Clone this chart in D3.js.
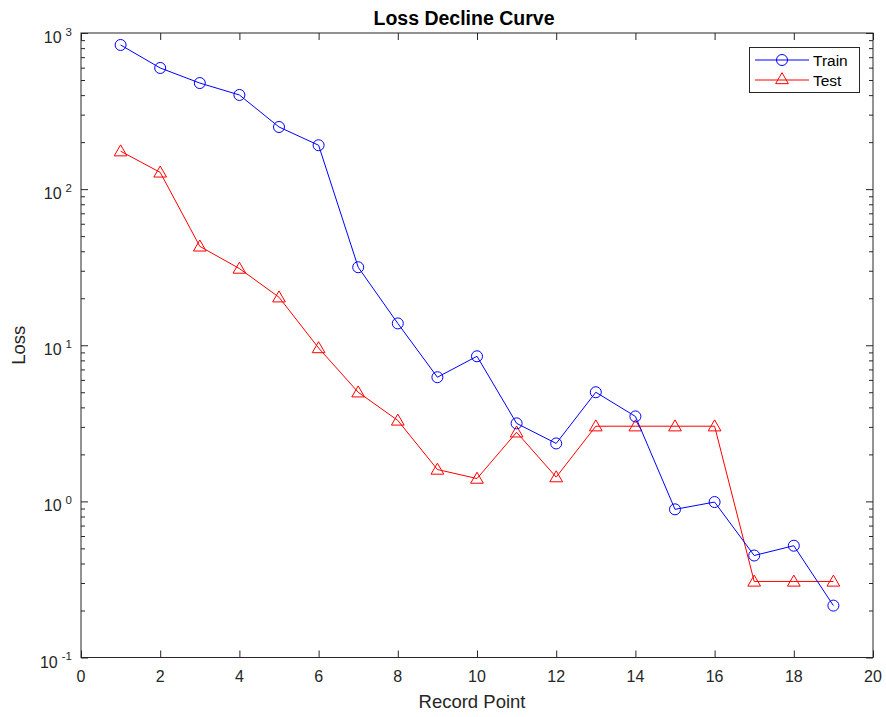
<!DOCTYPE html>
<html>
<head>
<meta charset="utf-8">
<script src="https://cdn.jsdelivr.net/npm/d3@7"></script>
<style>
  html, body { margin: 0; padding: 0; background: #fff; }
  svg { display: block; font-family: "Liberation Sans", Arial, sans-serif; }
</style>
</head>
<body>
<svg id="chart" width="886" height="717"></svg>
<script>
// Record points and loss values for the training and test runs
const recordPoints = [1, 2, 3, 4, 5, 6, 7, 8, 9, 10, 11, 12, 13, 14, 15, 16, 17, 18, 19];
const trainLoss = [838, 597, 478, 401, 250, 191, 31.6, 13.8, 6.24, 8.5, 3.16, 2.35, 5.0, 3.5, 0.889, 0.99, 0.45, 0.52, 0.215];
const testLoss = [175, 128, 43, 31, 20.3, 9.6, 5.0, 3.3, 1.6, 1.4, 2.77, 1.43, 3.03, 3.03, 3.03, 3.03, 0.307, 0.307, 0.307];
const xTicks = [0, 2, 4, 6, 8, 10, 12, 14, 16, 18, 20];
const yExponents = [-1, 0, 1, 2, 3];
const seriesNames = ["Train", "Test"];

const svg = d3.select("#chart");
const pL = 81, pR = 873, pT = 33, pB = 657.5;
const axisColor = "#262626";

const x = d3.scaleLinear().domain([0, 20]).range([pL, pR]);
const y = d3.scaleLog().domain([0.1, 1000]).range([pB, pT]);

// Minor log ticks (2..9 in each decade)
const minor = [];
yExponents.slice(0, -1).forEach(e => {
  for (let m = 2; m <= 9; m++) minor.push(m * Math.pow(10, e));
});

const g = svg.append("g");

// Tick marks: bottom/top
const tickLen = 7;
g.append("g").attr("transform", `translate(0,${pB})`)
  .call(d3.axisBottom(x).tickValues(xTicks).tickSizeInner(-tickLen).tickSizeOuter(0).tickFormat(""))
  .call(s => s.select(".domain").remove())
  .call(s => s.selectAll("line").attr("stroke", axisColor));
g.append("g").attr("transform", `translate(0,${pT})`)
  .call(d3.axisTop(x).tickValues(xTicks).tickSizeInner(-tickLen).tickSizeOuter(0).tickFormat(""))
  .call(s => s.select(".domain").remove())
  .call(s => s.selectAll("line").attr("stroke", axisColor));

// Tick marks: left/right major + minor
const majorVals = yExponents.map(e => Math.pow(10, e));
[[d3.axisLeft, pL], [d3.axisRight, pR]].forEach(([ax, px]) => {
  g.append("g").attr("transform", `translate(${px},0)`)
    .call(ax(y).tickValues(majorVals).tickSizeInner(-tickLen).tickSizeOuter(0).tickFormat(""))
    .call(s => s.select(".domain").remove())
    .call(s => s.selectAll("line").attr("stroke", axisColor));
  g.append("g").attr("transform", `translate(${px},0)`)
    .call(ax(y).tickValues(minor).tickSizeInner(-4).tickSizeOuter(0).tickFormat(""))
    .call(s => s.select(".domain").remove())
    .call(s => s.selectAll("line").attr("stroke", axisColor));
});

// Box
g.append("rect")
  .attr("x", pL).attr("y", pT)
  .attr("width", pR - pL).attr("height", pB - pT)
  .attr("fill", "none").attr("stroke", axisColor).attr("stroke-width", 1);

// X tick labels
g.selectAll(".xlab").data(xTicks).enter().append("text")
  .attr("x", d => x(d)).attr("y", pB + 24)
  .attr("text-anchor", "middle").attr("font-size", 16).attr("fill", axisColor)
  .text(d => d);

// Y tick labels as 10 with superscript exponent
const yl = g.selectAll(".ylab").data(yExponents).enter().append("text")
  .attr("x", pL - 9).attr("y", d => y(Math.pow(10, d)) + 10)
  .attr("text-anchor", "end").attr("font-size", 16).attr("fill", axisColor);
yl.append("tspan").text("10");
yl.append("tspan").attr("dx", 4).attr("dy", -7.5).attr("font-size", 11.5).text(d => d);

// Titles
svg.append("text").attr("x", 464).attr("y", 25)
  .attr("text-anchor", "middle").attr("font-size", 19.5).attr("font-weight", "bold")
  .attr("fill", "#000").text("Loss Decline Curve");
svg.append("text").attr("x", 472).attr("y", 708)
  .attr("text-anchor", "middle").attr("font-size", 18.5).attr("fill", axisColor)
  .text("Record Point");
svg.append("text").attr("transform", `translate(25,${(pT + pB) / 2}) rotate(-90)`)
  .attr("text-anchor", "middle").attr("font-size", 18.5).attr("fill", axisColor)
  .text("Loss");

// Series
const line = d3.line().x(d => x(d[0])).y(d => y(d[1]));
const trainPts = recordPoints.map((r, i) => [r, trainLoss[i]]);
const testPts = recordPoints.map((r, i) => [r, testLoss[i]]);

const tri = d3.symbol().type(d3.symbolTriangle).size(70);

function drawTriangle(sel, cx, cy) {
  sel.append("path").attr("d", tri())
    .attr("transform", `translate(${cx},${cy + 1})`)
    .attr("fill", "none").attr("stroke", "#ff0000").attr("stroke-width", 1);
}

svg.append("path").datum(testPts).attr("d", line)
  .attr("fill", "none").attr("stroke", "#ff0000").attr("stroke-width", 1);
const testG = svg.append("g");
testPts.forEach(d => drawTriangle(testG, x(d[0]), y(d[1])));

svg.append("path").datum(trainPts).attr("d", line)
  .attr("fill", "none").attr("stroke", "#0000ff").attr("stroke-width", 1);
svg.append("g").selectAll("circle").data(trainPts).enter().append("circle")
  .attr("cx", d => x(d[0])).attr("cy", d => y(d[1])).attr("r", 5.5)
  .attr("fill", "none").attr("stroke", "#0000ff").attr("stroke-width", 1);

// Legend
const lg = svg.append("g");
lg.append("rect").attr("x", 749.5).attr("y", 47.5).attr("width", 110).attr("height", 45)
  .attr("fill", "#fff").attr("stroke", axisColor).attr("stroke-width", 1);
const rows = [
  { name: seriesNames[0], color: "#0000ff", yy: 60 },
  { name: seriesNames[1], color: "#ff0000", yy: 80 }
];
rows.forEach((r, i) => {
  lg.append("line").attr("x1", 755).attr("x2", 809).attr("y1", r.yy).attr("y2", r.yy)
    .attr("stroke", r.color).attr("stroke-width", 1);
  if (i === 0) {
    lg.append("circle").attr("cx", 782).attr("cy", r.yy).attr("r", 5.5)
      .attr("fill", "none").attr("stroke", r.color);
  } else {
    drawTriangle(lg, 782, r.yy - 1);
  }
  lg.append("text").attr("x", 813).attr("y", r.yy + 5.5).attr("font-size", 15.5)
    .attr("fill", "#000").text(r.name);
});
</script>
</body>
</html>
